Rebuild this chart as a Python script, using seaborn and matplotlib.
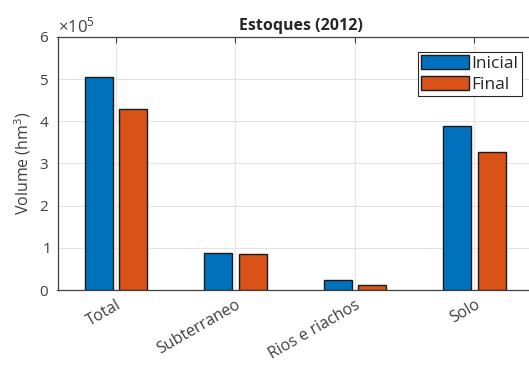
import matplotlib
matplotlib.use("Agg")
import matplotlib.pyplot as plt
import seaborn as sns
import pandas as pd
from matplotlib.ticker import ScalarFormatter

# Stock volumes at the start and end of 2012 (hm^3)
categories = ["Total", "Subterraneo", "Rios e riachos", "Solo"]
inicial = [5.05e5, 0.88e5, 0.23e5, 3.90e5]
final = [4.29e5, 0.85e5, 0.12e5, 3.27e5]
series_names = ["Inicial", "Final"]
y_ticks = [0, 1e5, 2e5, 3e5, 4e5, 5e5, 6e5]

df = pd.DataFrame({
    "categoria": categories * 2,
    "volume": inicial + final,
    "serie": [series_names[0]] * len(categories) + [series_names[1]] * len(categories),
})

sns.set_style("white")
plt.rcParams["font.family"] = ["Open Sans", "DejaVu Sans"]
plt.rcParams["mathtext.fontset"] = "custom"
plt.rcParams["mathtext.rm"] = "Open Sans"

fig = plt.figure(figsize=(5.29, 3.65), dpi=100)
# axes run past the right edge of the canvas
ax = fig.add_axes([57.5 / 529, 75 / 365, 487.5 / 529, 253 / 365])

sns.barplot(
    data=df, x="categoria", y="volume", hue="serie",
    palette=["#0072BD", "#D95319"], width=0.58, gap=0.2,
    edgecolor="#1a1a1a", linewidth=1.0, saturation=1, ax=ax,
)

ax.set_xlim(-0.4895, 3.59)
ax.set_ylim(0, 6e5)
ax.set_yticks(y_ticks)

fmt = ScalarFormatter(useMathText=True)
fmt.set_powerlimits((0, 0))
ax.yaxis.set_major_formatter(fmt)
ax.yaxis.get_offset_text().set_fontsize(12)
ax.yaxis.get_offset_text().set_color("#404040")

ax.set_xlabel("")
ax.set_ylabel("Volume (hm$^3$)", fontsize=11.5, color="#404040", labelpad=4)
ax.set_title("Estoques (2012)", fontsize=11.5, fontweight="bold", color="#262626", pad=5)

ax.grid(True, color="#e3e3e3", linewidth=0.8)
ax.set_axisbelow(True)
for s in ax.spines.values():
    s.set_color("#404040")
    s.set_linewidth(0.9)

ax.tick_params(axis="both", direction="in", length=4, width=0.8, color="#404040",
               labelcolor="#404040", labelsize=11, top=True, right=True)
ax.tick_params(axis="y", pad=6)
ax.tick_params(axis="x", labelsize=11.5, pad=5)
plt.setp(ax.get_xticklabels(), rotation=30, ha="right", rotation_mode="anchor")

leg = ax.legend(loc="upper right", bbox_to_anchor=(464.5 / 487.5, 0.941), borderaxespad=0,
                fontsize=12.5, frameon=True, fancybox=False, framealpha=1,
                edgecolor="#262626", handlelength=2.75, handleheight=0.85,
                handletextpad=0.15, borderpad=0.2, labelspacing=0.2, title=None)
leg.get_frame().set_linewidth(0.8)

fig.savefig("out.png", dpi=100)
